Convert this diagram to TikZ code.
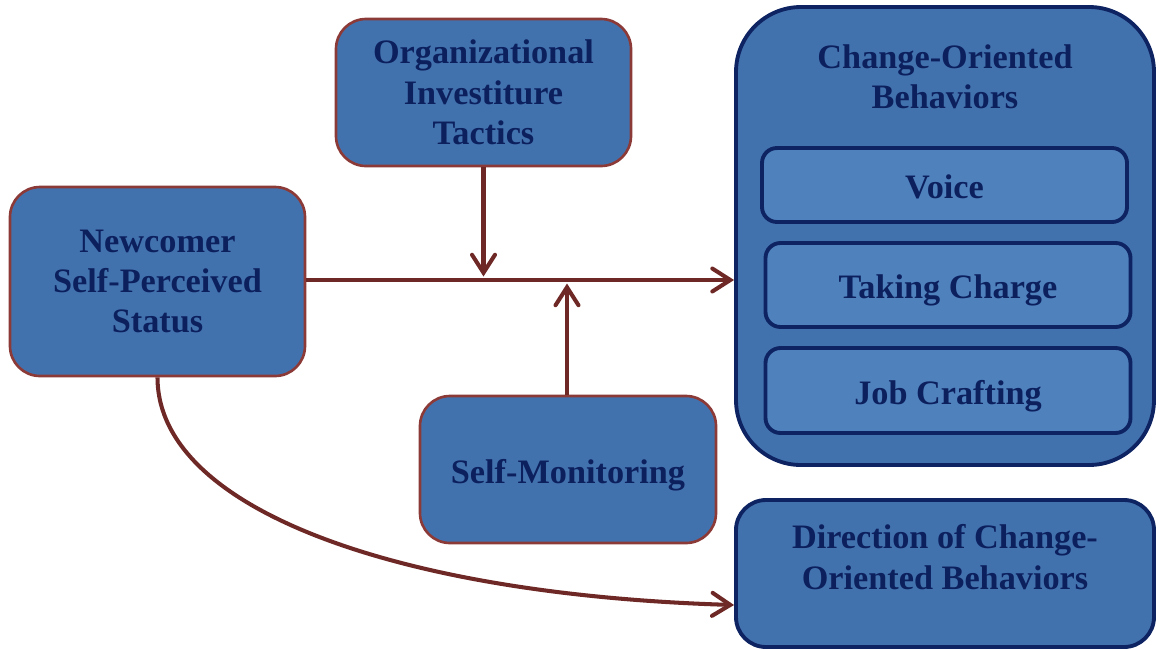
\documentclass[tikz,border=0pt]{standalone}
\usepackage{fontspec}
\setmainfont{Liberation Serif}
\usetikzlibrary{arrows.meta}

\definecolor{boxfill}{RGB}{66,114,174}
\definecolor{innerfill}{RGB}{79,129,189}
\definecolor{navy}{RGB}{14,36,98}
\definecolor{redline}{RGB}{140,58,56}
\definecolor{arrowred}{RGB}{110,40,38}
\definecolor{textnavy}{RGB}{12,32,94}

\begin{document}
\begin{tikzpicture}[
    font=\bfseries\fontsize{19.5}{23}\selectfont,
    redbox/.style={draw=redline,line width=1.5pt,fill=boxfill,rounded corners=0.6cm,
        text=textnavy,align=center,inner sep=0pt},
    bluebox/.style={draw=navy,line width=2.2pt,fill=boxfill,text=textnavy,align=center,inner sep=0pt},
    itembox/.style={draw=navy,line width=2.2pt,fill=innerfill,rounded corners=0.3cm,
        text=textnavy,align=center,inner sep=0pt,minimum width=7.3cm,oneline},
    oneline/.style={text height=0.69cm,text depth=0.15cm},
    link/.style={draw=arrowred,line width=2.3pt,-{Straight Barb[length=3.6mm,width=4.6mm,line cap=round]}}
]
    \useasboundingbox (0,0) rectangle (23.12,-12.98);

    % Predictor and moderators
    \node[redbox,minimum width=5.9cm,minimum height=3.78cm] (status) at (3.15,-5.63)
        {Newcomer\\Self-Perceived\\Status};
    \node[redbox,minimum width=5.9cm,minimum height=2.94cm] (tactics) at (9.67,-1.85)
        {Organizational\\Investiture\\Tactics};
    \node[redbox,oneline,minimum width=5.92cm,minimum height=2.94cm] (monitor) at (11.36,-9.39)
        {Self-Monitoring};

    % Outcomes
    \node[bluebox,rounded corners=1.3cm,minimum width=8.36cm,minimum height=9.16cm] (change) at (18.9,-4.72) {};
    \node[text=textnavy,align=center] (changetitle) at (18.9,-1.54) {Change-Oriented\\Behaviors};
    \node[itembox,minimum height=1.48cm] (voice) at (18.89,-3.7) {Voice};
    \node[itembox,minimum height=1.68cm] (charge) at (18.96,-5.7) {Taking Charge};
    \node[itembox,minimum height=1.7cm] (crafting) at (18.96,-7.81) {Job Crafting};

    \node[bluebox,rounded corners=0.6cm,minimum width=8.36cm,minimum height=2.94cm] (direction) at (18.9,-11.47) {};
    \node[text=textnavy,align=center] (directiontitle) at (18.9,-11.14) {Direction of Change-\\Oriented Behaviors};

    % Main path and moderation
    \coordinate (tacticsend) at (tactics.south |- 0,-5.53);
    \coordinate (monitorend) at (11.34,-5.67);
    \coordinate (directionin) at (change.west |- 0,-12.1);
    \draw[link] (status.east |- 0,-5.6) -- (change.west |- 0,-5.6);
    \draw[link] (tactics.south) -- (tacticsend);
    \draw[link] (monitor.north -| monitorend) -- (monitorend);

    % Direct path to direction
    \draw[link] (status.south) .. controls (3.15,-10.2) and (8,-11.9) .. (directionin);
\end{tikzpicture}
\end{document}
